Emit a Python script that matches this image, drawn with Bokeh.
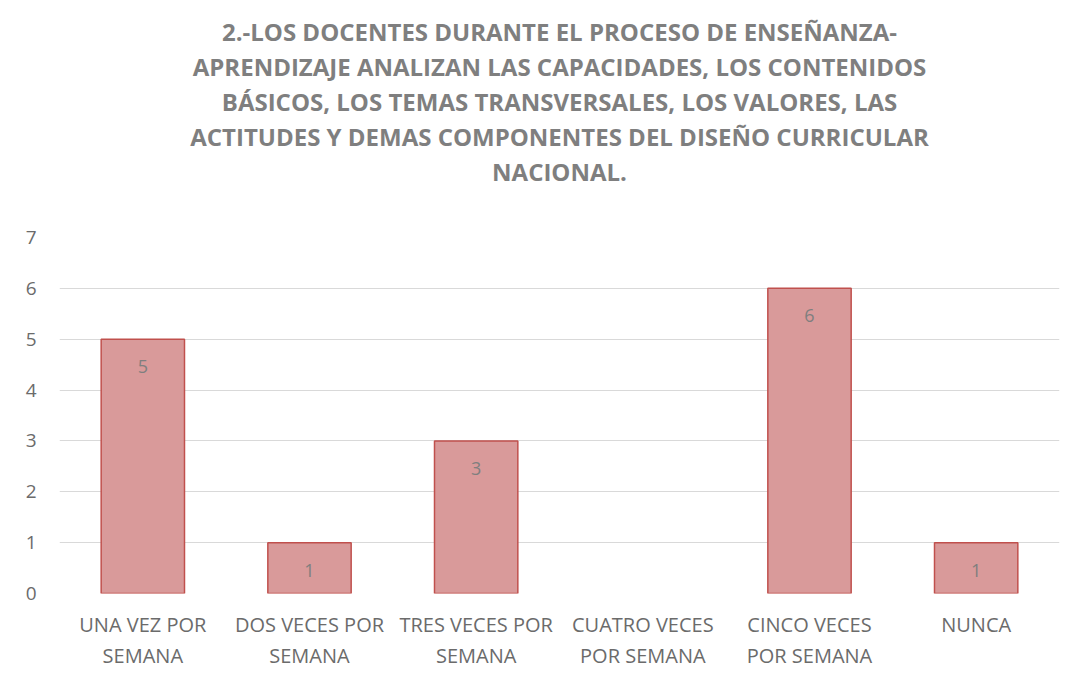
from bokeh.plotting import figure
from bokeh.models import FixedTicker, Range1d, ColumnDataSource, Title
from bokeh.core.properties import value
from bokeh.embed import file_html
from bokeh.resources import INLINE

categories = ["UNA VEZ POR\nSEMANA", "DOS VECES POR\nSEMANA", "TRES VECES POR\nSEMANA",
              "CUATRO VECES\nPOR SEMANA", "CINCO VECES\nPOR SEMANA", "NUNCA"]
values = [5, 1, 3, 0, 6, 1]
y_ticks = [0, 1, 2, 3, 4, 5, 6, 7]
title_lines = ["2.-LOS DOCENTES DURANTE EL PROCESO DE ENSEÑANZA-",
               "APRENDIZAJE ANALIZAN LAS CAPACIDADES, LOS CONTENIDOS",
               "BÁSICOS, LOS TEMAS TRANSVERSALES, LOS VALORES, LAS",
               "ACTITUDES Y DEMAS COMPONENTES DEL DISEÑO CURRICULAR",
               "NACIONAL."]

FONT = "Open Sans"

p = figure(x_range=categories, y_range=Range1d(0, 7), width=1070, height=678,
           output_backend="svg", toolbar_location=None, tools="")
p.min_border_left = 59
p.min_border_right = 11
p.min_border_top = 237
p.min_border_bottom = 85
p.outline_line_color = None
p.title = None

p.add_layout(Title(text=" ", text_font_size="43px", standoff=0), "above")
for line in reversed(title_lines):
    t = Title(text=line, align="center", text_font=FONT, text_font_size="24px",
              text_font_style="bold", text_color="#7f7f7f", standoff=0)
    p.add_layout(t, "above")

src = ColumnDataSource(dict(x=categories, top=values,
                            lab=[str(v) if v else "" for v in values],
                            lc=["#c0504d" if v else None for v in values]))
p.vbar(x="x", top="top", width=0.5, source=src, fill_color="#d99a9a",
       line_color="lc", line_width=1.5)
p.text(x="x", y="top", text="lab", source=src, text_align="center", text_baseline="top",
       y_offset=21, text_font=value(FONT), text_font_size="18px", text_color="#7f7f7f")

p.yaxis.ticker = FixedTicker(ticks=y_ticks)
p.yaxis.axis_line_color = None
p.yaxis.major_tick_line_color = None
p.yaxis.minor_tick_line_color = None
p.yaxis.major_label_standoff = 17
p.yaxis.major_label_text_font = FONT
p.yaxis.major_label_text_font_size = "19px"
p.yaxis.major_label_text_color = "#6b6b6b"

p.xaxis.axis_line_color = None
p.xaxis.major_tick_line_color = None
p.xaxis.major_label_standoff = 11
p.xaxis.major_label_text_font = FONT
p.xaxis.major_label_text_font_size = "20px"
p.xaxis.major_label_text_color = "#6b6b6b"
p.xaxis.major_label_text_line_height = 1.17

p.xgrid.grid_line_color = None
p.ygrid.grid_line_color = "#d9d9d9"
p.ygrid.grid_line_width = 1.2

open("out.html", "w").write(file_html(p, INLINE))
